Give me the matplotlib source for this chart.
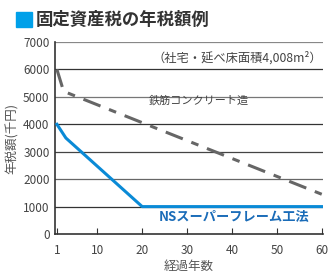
import matplotlib
matplotlib.use('Agg')
import matplotlib.pyplot as plt
from matplotlib.patches import Rectangle

plt.rcParams['font.family'] = ['Noto Sans CJK JP', 'DejaVu Sans']

# data
years_rc = [1, 2.5, 60]
tax_rc = [6000, 5200, 1450]
years_ns = [1, 3, 20, 60]
tax_ns = [4000, 3500, 1000, 1000]
xticks = [1, 10, 20, 30, 40, 50, 60]
yticks = [0, 1000, 2000, 3000, 4000, 5000, 6000, 7000]
grid_colors = ['#333333', '#666666', '#444444', '#333333', '#777777', '#333333', '#888888']

fig = plt.figure(figsize=(3.28, 2.76), dpi=100)
ax = fig.add_axes([0.168, 0.152, 0.817, 0.696])

for y, c in zip(yticks[1:], grid_colors):
    ax.axhline(y, color=c, lw=0.9, zorder=1)

ax.plot(years_rc, tax_rc, color='#666666', lw=2.2, dashes=(6, 3, 2.5, 3), zorder=3)
ax.plot(years_ns, tax_ns, color='#0a8ad6', lw=2.2, zorder=3)

ax.set_xlim(0.6, 60.3)
ax.set_ylim(0, 7000)
ax.set_xticks(xticks)
ax.set_yticks(yticks)
ax.tick_params(axis='x', direction='in', length=4, color='#333333', labelsize=8.5,
               labelcolor='#444444', pad=7)
ax.tick_params(axis='y', length=0, labelsize=8.5, labelcolor='#444444', pad=4)
for s in ['top', 'right']:
    ax.spines[s].set_visible(False)
ax.spines['left'].set_color('#333333')
ax.spines['bottom'].set_color('#333333')
ax.spines['left'].set_linewidth(1.2)
ax.spines['bottom'].set_linewidth(1.2)

ax.set_xlabel('経過年数', fontsize=9, color='#555555', labelpad=2)
ax.set_ylabel('年税額(千円)', fontsize=9, color='#555555', labelpad=3)

ax.text(60, 6400, '（社宅・延べ床面積4,008m²）', fontsize=8.8, color='#444444',
        ha='right', va='center')
ax.text(21.5, 4850, '鉄筋コンクリート造', fontsize=8, color='#444444', ha='left', va='center')
ax.text(40.5, 620, 'NSスーパーフレーム工法', fontsize=9.5, color='#1a6cb8',
        fontweight='bold', ha='center', va='center')

fig.patches.append(Rectangle((0.049, 0.902), 0.049, 0.054, transform=fig.transFigure,
                             color='#00a0e9', figure=fig))
fig.text(0.11, 0.929, '固定資産税の年税額例', fontsize=12.5, fontweight='bold',
         color='#333333', ha='left', va='center')

fig.savefig('out.png', dpi=100)
